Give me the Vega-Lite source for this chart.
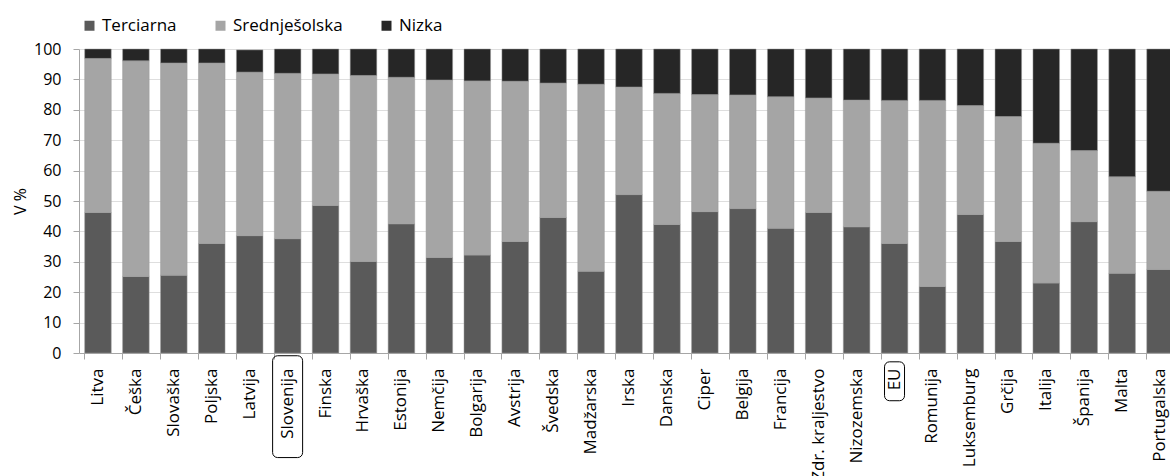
{
  "$schema": "https://vega.github.io/schema/vega-lite/v6.json",
  "autosize": "none",
  "width": 1091,
  "height": 304,
  "padding": {"left": 79, "top": 49, "right": 0, "bottom": 123},
  "background": "#ffffff",
  "config": {
    "font": "Open Sans",
    "view": {"stroke": null},
    "axis": {"labelFont": "Open Sans", "labelFontSize": 16, "labelColor": "#000000", "titleFont": "Open Sans", "titleFontSize": 16, "titleFontWeight": "normal", "titleColor": "#000000"}
  },
  "datasets": {
    "edu": [
      {"country": "Litva", "level": "Terciarna", "pct": 46.2}, {"country": "Litva", "level": "Srednješolska", "pct": 50.7}, {"country": "Litva", "level": "Nizka", "pct": 3.1},
      {"country": "Češka", "level": "Terciarna", "pct": 25.2}, {"country": "Češka", "level": "Srednješolska", "pct": 70.9}, {"country": "Češka", "level": "Nizka", "pct": 3.9},
      {"country": "Slovaška", "level": "Terciarna", "pct": 25.6}, {"country": "Slovaška", "level": "Srednješolska", "pct": 69.8}, {"country": "Slovaška", "level": "Nizka", "pct": 4.6},
      {"country": "Poljska", "level": "Terciarna", "pct": 36.0}, {"country": "Poljska", "level": "Srednješolska", "pct": 59.4}, {"country": "Poljska", "level": "Nizka", "pct": 4.6},
      {"country": "Latvija", "level": "Terciarna", "pct": 38.6}, {"country": "Latvija", "level": "Srednješolska", "pct": 53.8}, {"country": "Latvija", "level": "Nizka", "pct": 7.3},
      {"country": "Slovenija", "level": "Terciarna", "pct": 37.6}, {"country": "Slovenija", "level": "Srednješolska", "pct": 54.4}, {"country": "Slovenija", "level": "Nizka", "pct": 8.0},
      {"country": "Finska", "level": "Terciarna", "pct": 48.5}, {"country": "Finska", "level": "Srednješolska", "pct": 43.3}, {"country": "Finska", "level": "Nizka", "pct": 8.2},
      {"country": "Hrvaška", "level": "Terciarna", "pct": 30.1}, {"country": "Hrvaška", "level": "Srednješolska", "pct": 61.2}, {"country": "Hrvaška", "level": "Nizka", "pct": 8.7},
      {"country": "Estonija", "level": "Terciarna", "pct": 42.5}, {"country": "Estonija", "level": "Srednješolska", "pct": 48.2}, {"country": "Estonija", "level": "Nizka", "pct": 9.3},
      {"country": "Nemčija", "level": "Terciarna", "pct": 31.4}, {"country": "Nemčija", "level": "Srednješolska", "pct": 58.4}, {"country": "Nemčija", "level": "Nizka", "pct": 10.2},
      {"country": "Bolgarija", "level": "Terciarna", "pct": 32.2}, {"country": "Bolgarija", "level": "Srednješolska", "pct": 57.3}, {"country": "Bolgarija", "level": "Nizka", "pct": 10.5},
      {"country": "Avstrija", "level": "Terciarna", "pct": 36.7}, {"country": "Avstrija", "level": "Srednješolska", "pct": 52.7}, {"country": "Avstrija", "level": "Nizka", "pct": 10.6},
      {"country": "Švedska", "level": "Terciarna", "pct": 44.6}, {"country": "Švedska", "level": "Srednješolska", "pct": 44.2}, {"country": "Švedska", "level": "Nizka", "pct": 11.2},
      {"country": "Madžarska", "level": "Terciarna", "pct": 26.9}, {"country": "Madžarska", "level": "Srednješolska", "pct": 61.5}, {"country": "Madžarska", "level": "Nizka", "pct": 11.6},
      {"country": "Irska", "level": "Terciarna", "pct": 52.1}, {"country": "Irska", "level": "Srednješolska", "pct": 35.4}, {"country": "Irska", "level": "Nizka", "pct": 12.5},
      {"country": "Danska", "level": "Terciarna", "pct": 42.3}, {"country": "Danska", "level": "Srednješolska", "pct": 43.1}, {"country": "Danska", "level": "Nizka", "pct": 14.6},
      {"country": "Ciper", "level": "Terciarna", "pct": 46.5}, {"country": "Ciper", "level": "Srednješolska", "pct": 38.5}, {"country": "Ciper", "level": "Nizka", "pct": 15.0},
      {"country": "Belgija", "level": "Terciarna", "pct": 47.5}, {"country": "Belgija", "level": "Srednješolska", "pct": 37.4}, {"country": "Belgija", "level": "Nizka", "pct": 15.1},
      {"country": "Francija", "level": "Terciarna", "pct": 41.0}, {"country": "Francija", "level": "Srednješolska", "pct": 43.3}, {"country": "Francija", "level": "Nizka", "pct": 15.7},
      {"country": "Zdr. kraljestvo", "level": "Terciarna", "pct": 46.2}, {"country": "Zdr. kraljestvo", "level": "Srednješolska", "pct": 37.7}, {"country": "Zdr. kraljestvo", "level": "Nizka", "pct": 16.1},
      {"country": "Nizozemska", "level": "Terciarna", "pct": 41.5}, {"country": "Nizozemska", "level": "Srednješolska", "pct": 41.7}, {"country": "Nizozemska", "level": "Nizka", "pct": 16.8},
      {"country": "EU", "level": "Terciarna", "pct": 36.0}, {"country": "EU", "level": "Srednješolska", "pct": 47.1}, {"country": "EU", "level": "Nizka", "pct": 16.9},
      {"country": "Romunija", "level": "Terciarna", "pct": 21.9}, {"country": "Romunija", "level": "Srednješolska", "pct": 61.2}, {"country": "Romunija", "level": "Nizka", "pct": 16.9},
      {"country": "Luksemburg", "level": "Terciarna", "pct": 45.6}, {"country": "Luksemburg", "level": "Srednješolska", "pct": 35.8}, {"country": "Luksemburg", "level": "Nizka", "pct": 18.6},
      {"country": "Grčija", "level": "Terciarna", "pct": 36.7}, {"country": "Grčija", "level": "Srednješolska", "pct": 41.1}, {"country": "Grčija", "level": "Nizka", "pct": 22.2},
      {"country": "Italija", "level": "Terciarna", "pct": 23.0}, {"country": "Italija", "level": "Srednješolska", "pct": 46.0}, {"country": "Italija", "level": "Nizka", "pct": 31.0},
      {"country": "Španija", "level": "Terciarna", "pct": 43.2}, {"country": "Španija", "level": "Srednješolska", "pct": 23.4}, {"country": "Španija", "level": "Nizka", "pct": 33.4},
      {"country": "Malta", "level": "Terciarna", "pct": 26.2}, {"country": "Malta", "level": "Srednješolska", "pct": 31.8}, {"country": "Malta", "level": "Nizka", "pct": 42.0},
      {"country": "Portugalska", "level": "Terciarna", "pct": 27.5}, {"country": "Portugalska", "level": "Srednješolska", "pct": 25.7}, {"country": "Portugalska", "level": "Nizka", "pct": 46.8}
    ],
    "highlight": [
      {"country": "Slovenija"},
      {"country": "EU"}
    ]
  },
  "resolve": {"axis": {"y": "independent"}},
  "encoding": {
    "x": {
      "field": "country",
      "type": "nominal",
      "sort": null,
      "scale": {"range": [0, 1100], "paddingInner": 0.3, "paddingOuter": 0.15},
      "axis": {
        "title": null,
        "labelAngle": -90,
        "labelAlign": "right",
        "labelBaseline": "middle",
        "labelFontSize": 17,
        "labelPadding": 9,
        "labelOverlap": false,
        "bandPosition": 0,
        "tickSize": 6,
        "tickColor": "#a6a6a6",
        "domainColor": "#a6a6a6",
        "grid": false
      }
    }
  },
  "layer": [
    {
      "data": {"name": "edu"},
      "mark": {"type": "bar", "stroke": "#9a9a9a", "strokeWidth": 0.5},
      "encoding": {
        "y": {
          "field": "pct",
          "type": "quantitative",
          "stack": "zero",
          "scale": {"domain": [0, 100], "nice": false},
          "axis": {
            "title": "V %",
            "titlePadding": 5,
            "values": [0, 10, 20, 30, 40, 50, 60, 70, 80, 90, 100],
            "labelOverlap": false,
            "tickSize": 6,
            "labelPadding": 12,
            "tickColor": "#a6a6a6",
            "domainColor": "#a6a6a6",
            "gridColor": "#dedede",
            "grid": true
          }
        },
        "color": {
          "field": "level",
          "type": "nominal",
          "sort": ["Terciarna", "Srednješolska", "Nizka"],
          "scale": {"domain": ["Terciarna", "Srednješolska", "Nizka"], "range": ["#5a5a5a", "#a5a5a5", "#262626"]},
          "legend": {
            "title": null,
            "orient": "none",
            "legendX": 2,
            "legendY": -32,
            "direction": "horizontal",
            "symbolType": "square",
            "symbolSize": 100,
            "symbolStrokeWidth": 0,
            "labelFontSize": 17,
            "labelFont": "Open Sans",
            "labelColor": "#000000",
            "labelOffset": 4,
            "columnPadding": 35,
            "padding": 0
          }
        }
      }
    },
    {
      "data": {"name": "highlight"},
      "transform": [{"filter": "datum.country === 'Slovenija'"}],
      "mark": {"type": "bar", "width": 30, "fill": "#ffffff", "fillOpacity": 0, "stroke": "#000000", "strokeWidth": 1, "cornerRadius": 5, "clip": false},
      "encoding": {
        "y": {"datum": -0.9, "type": "quantitative", "axis": null},
        "y2": {"datum": -34.4}
      }
    },
    {
      "data": {"name": "highlight"},
      "transform": [{"filter": "datum.country === 'EU'"}],
      "mark": {"type": "bar", "width": 20, "fill": "#ffffff", "fillOpacity": 0, "stroke": "#000000", "strokeWidth": 1, "cornerRadius": 5, "clip": false},
      "encoding": {
        "y": {"datum": -2.9, "type": "quantitative", "axis": null},
        "y2": {"datum": -15.7}
      }
    }
  ]
}
